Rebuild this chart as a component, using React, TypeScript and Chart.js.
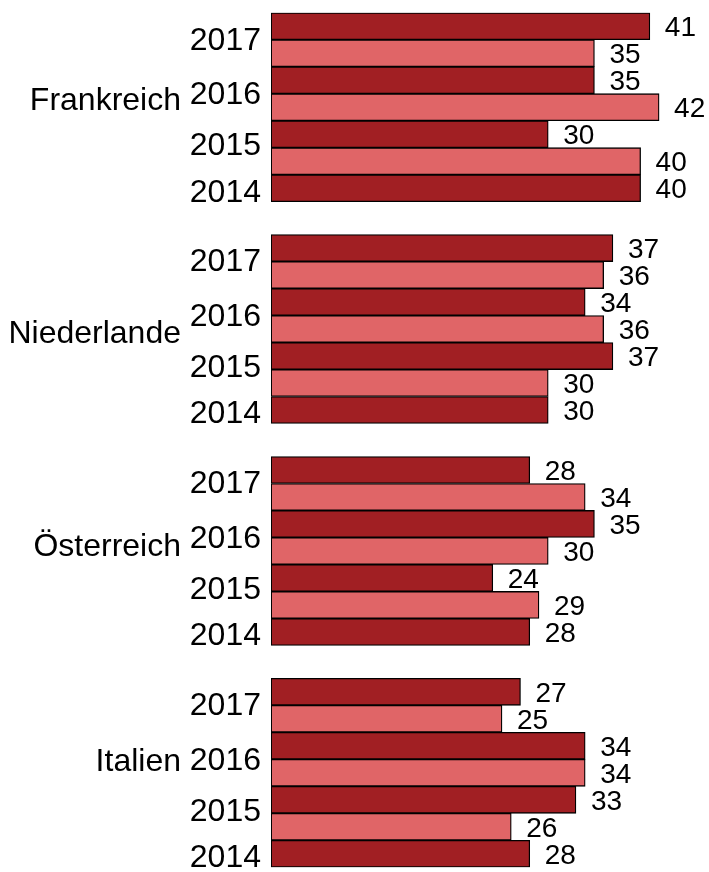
import React, { useEffect, useRef } from 'react';
import { Chart, registerables } from 'chart.js';

Chart.register(...registerables);

// ---- data ----
const countries = ['Frankreich', 'Niederlande', 'Österreich', 'Italien'];
const years = ['2017', '2016', '2015', '2014'];
// dark series: one value per year 2017, 2016, 2015, 2014
const darkValues = [
  [41, 35, 30, 40],
  [37, 34, 37, 30],
  [28, 35, 24, 28],
  [27, 34, 33, 28],
];
// light series: one value per year 2017, 2016, 2015
const lightValues = [
  [35, 42, 40],
  [36, 36, 30],
  [34, 30, 29],
  [25, 34, 26],
];

// ---- layout (in bar slots along the category axis) ----
const GROUP_PITCH = 8.22;
const yearTickOffsets = [0.54, 2.55, 4.44, 6.17];
const countryTickOffsets = [2.79, 3.2, 2.87, 2.62];

const DARK = '#A11F23';
const LIGHT = '#E06567';
const FONT = "'Liberation Sans', Arial, Helvetica, sans-serif";

const darkData: { x: number; y: number }[] = [];
darkValues.forEach((vals, g) =>
  vals.forEach((v, k) => darkData.push({ x: v, y: g * GROUP_PITCH + 2 * k }))
);
const lightData: { x: number; y: number }[] = [];
lightValues.forEach((vals, g) =>
  vals.forEach((v, k) => lightData.push({ x: v, y: g * GROUP_PITCH + 2 * k + 1 }))
);

const yearTicks: number[] = [];
const yearTickLabels: string[] = [];
countries.forEach((_, g) =>
  years.forEach((yr, k) => {
    yearTicks.push(g * GROUP_PITCH + yearTickOffsets[k]);
    yearTickLabels.push(yr);
  })
);
const countryTicks = countries.map((_, g) => g * GROUP_PITCH + countryTickOffsets[g]);

const Y_MIN = -0.5;
const Y_MAX = (countries.length - 1) * GROUP_PITCH + 6.5;

const valueLabels = {
  id: 'valueLabels',
  afterDatasetsDraw(chart: any) {
    const ctx = chart.ctx;
    ctx.save();
    ctx.fillStyle = '#000';
    ctx.font = `28px ${FONT}`;
    ctx.textAlign = 'left';
    ctx.textBaseline = 'middle';
    chart.data.datasets.forEach((ds: any, di: number) => {
      const meta = chart.getDatasetMeta(di);
      meta.data.forEach((el: any, i: number) => {
        ctx.fillText(String(ds.data[i].x), el.x + 15, el.y + 2);
      });
    });
    ctx.restore();
  },
};

export default function App() {
  const ref = useRef<HTMLCanvasElement | null>(null);

  useEffect(() => {
    if (!ref.current) return;
    const chart = new Chart(ref.current, {
      type: 'bar',
      data: {
        datasets: [
          {
            label: 'dark',
            data: darkData,
            backgroundColor: DARK,
            borderColor: '#000',
            borderWidth: 1.3,
            borderSkipped: false,
            grouped: false,
            categoryPercentage: 1,
            barPercentage: 1,
            yAxisID: 'y',
          },
          {
            label: 'light',
            data: lightData,
            backgroundColor: LIGHT,
            borderColor: '#000',
            borderWidth: 1.3,
            borderSkipped: false,
            grouped: false,
            categoryPercentage: 1,
            barPercentage: 1,
            yAxisID: 'y',
          },
        ],
      } as any,
      options: {
        indexAxis: 'y',
        animation: false,
        responsive: true,
        maintainAspectRatio: false,
        layout: { padding: { top: 12.7, bottom: 4.7, left: 0, right: 0 } },
        plugins: { legend: { display: false }, tooltip: { enabled: false } },
        scales: {
          x: { type: 'linear', min: 0, max: 47.4, display: false, offset: false },
          y: {
            type: 'linear',
            position: 'left',
            weight: 0,
            reverse: true,
            offset: false,
            min: Y_MIN,
            max: Y_MAX,
            grid: { display: false, drawTicks: false },
            border: { display: false },
            afterBuildTicks: (scale: any) => {
              scale.ticks = yearTicks.map((v) => ({ value: v }));
            },
            afterFit: (scale: any) => {
              scale.width = 80;
              scale.paddingTop = 0;
              scale.paddingBottom = 0;
            },
            ticks: {
              autoSkip: false,
              padding: 10,
              color: '#000',
              font: { family: FONT, size: 32 },
              callback: (_v: any, i: number) => yearTickLabels[i],
            },
          },
          yGroup: {
            type: 'linear',
            axis: 'y',
            position: 'left',
            weight: 1,
            reverse: true,
            offset: false,
            min: Y_MIN,
            max: Y_MAX,
            grid: { display: false, drawTicks: false },
            border: { display: false },
            afterBuildTicks: (scale: any) => {
              scale.ticks = countryTicks.map((v) => ({ value: v }));
            },
            afterFit: (scale: any) => {
              scale.width = 191;
              scale.paddingTop = 0;
              scale.paddingBottom = 0;
            },
            ticks: {
              autoSkip: false,
              padding: 10,
              color: '#000',
              font: { family: FONT, size: 32 },
              callback: (_v: any, i: number) => countries[i],
            },
          },
        },
      } as any,
      plugins: [valueLabels],
    });
    return () => chart.destroy();
  }, []);

  return (
    <div style={{ position: 'absolute', left: 0, top: 0, width: 709, height: 872 }}>
      <canvas ref={ref} />
    </div>
  );
}
